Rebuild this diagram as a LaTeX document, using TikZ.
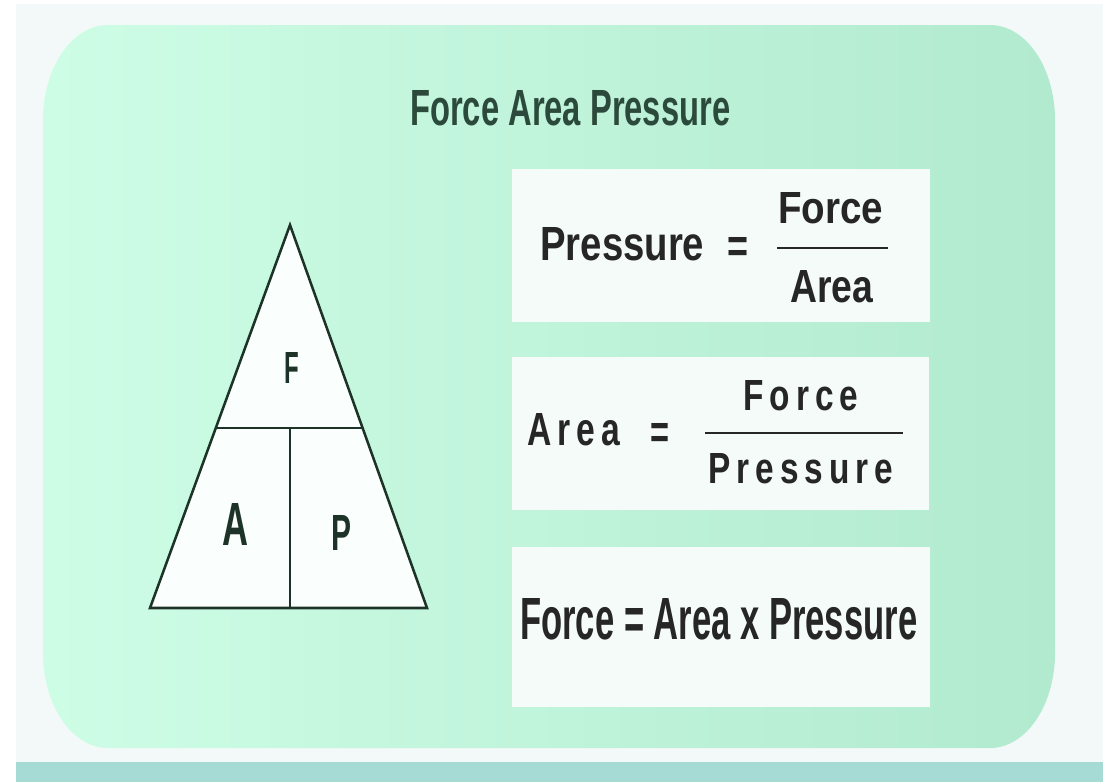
\documentclass[tikz,border=0pt]{standalone}
\usepackage{fontspec}
\setmainfont{Liberation Sans}
\newfontfamily\spacedfont[LetterSpace=18]{Liberation Sans}
\usepackage{graphicx}
\usepackage{xcolor}
\usetikzlibrary{calc}

\definecolor{pagebg}{HTML}{F3F9F8}
\definecolor{panelleft}{HTML}{CEFDE6}
\definecolor{panelright}{HTML}{B1EACF}
\definecolor{boxwhite}{HTML}{F4FBF8}
\definecolor{band}{HTML}{A6DBD5}
\definecolor{inkgray}{HTML}{262626}
\definecolor{titlegreen}{HTML}{2C4A3B}
\definecolor{triline}{HTML}{1E3328}
\definecolor{triwhite}{HTML}{FAFEFC}

% fit text to a width and cap height (in pt)
\newcommand{\fitw}[3]{\resizebox{#1pt}{#2pt}{#3}}

\begin{document}
\begin{tikzpicture}[
  x=0.75pt, y=-0.75pt,
  lbl/.style={inner sep=0pt, anchor=base west, text=inkgray, font=\bfseries},
  box/.style={fill=boxwhite},
  tri/.style={draw=triline, line width=1.9pt, fill=triwhite, line join=miter},
  bar/.style={draw=inkgray, line width=1.6pt}
]
\useasboundingbox (0,0) rectangle (1119,782);
\fill[white] (0,0) rectangle (1119,782);
\fill[pagebg] (16,4) rectangle (1103,782);
\fill[band] (16,762) rectangle (1103,782);

% green panel
\shade[left color=panelleft, right color=panelright]
  (108,25) -- (990,25) arc[start angle=-90, end angle=0, x radius=65, y radius=95]
  -- (1055,653) arc[start angle=0, end angle=90, x radius=65, y radius=95]
  -- (108,748) arc[start angle=90, end angle=180, x radius=65, y radius=95]
  -- (43,120) arc[start angle=180, end angle=270, x radius=65, y radius=95] -- cycle;

\node[lbl, text=titlegreen] (title) at (410,125) {\fitw{240}{26.25}{Force Area Pressure}};

% triangle
\coordinate (apex) at (290,225);
\coordinate (bl) at (150,608);
\coordinate (br) at (427,608);
\coordinate (ml) at (216,428);
\coordinate (mr) at (363,428);
\coordinate (mid) at (290,428);
\coordinate (bm) at (290,608);
\filldraw[tri] (apex) -- (br) -- (bl) -- cycle;
\draw[tri] (ml) -- (mr);
\draw[tri] (mid) -- (bm);
\node[lbl, text=triline] (f) at (284,383) {\fitw{11}{23.25}{F}};
\node[lbl, text=triline] (a) at (222,545) {\fitw{19.5}{31.5}{A}};
\node[lbl, text=triline] (p) at (331,550) {\fitw{15}{26.25}{P}};

% formula boxes
\fill[box] (512,169) rectangle (930,322);
\fill[box] (512,357) rectangle (929,510);
\fill[box] (512,547) rectangle (930,707);

\node[lbl] (pres) at (540,260) {\fitw{123}{24.75}{Pressure}};
\node[lbl] (eq1) at (727,262) {\fitw{15.75}{18.75}{=}};
\node[lbl] (num1) at (778,223) {\fitw{78.75}{23.25}{Force}};
\node[lbl] (den1) at (790,302) {\fitw{62.25}{24}{Area}};
\coordinate (bar1l) at (777,248);
\coordinate (bar1r) at (888,248);
\draw[bar] (bar1l) -- (bar1r);

\node[lbl] (area) at (527,445) {\fitw{69.75}{24}{\spacedfont\bfseries Area}};
\node[lbl] (eq2) at (650,448) {\fitw{14.25}{18.75}{=}};
\node[lbl] (num2) at (743,410) {\fitw{86.25}{22.5}{\spacedfont\bfseries Force}};
\node[lbl] (den2) at (708,483) {\fitw{138.75}{22.5}{\spacedfont\bfseries Pressure}};
\coordinate (bar2l) at (705,433);
\coordinate (bar2r) at (903,433);
\draw[bar] (bar2l) -- (bar2r);

\node[lbl] (force) at (520,639) {\fitw{297.75}{30.75}{Force = Area x Pressure}};
\end{tikzpicture}
\end{document}
